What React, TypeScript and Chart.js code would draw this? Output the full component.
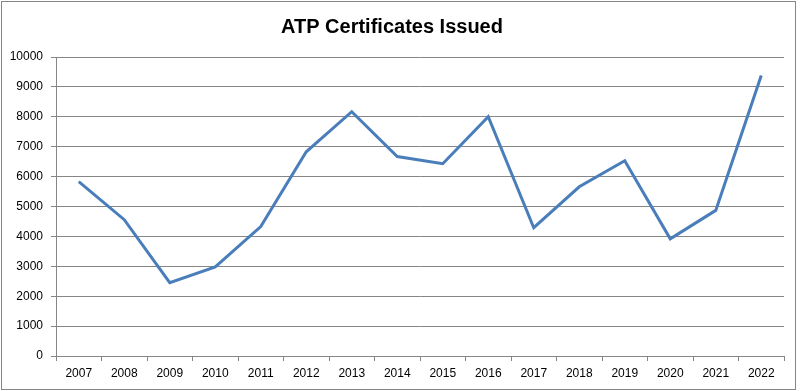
import React, { useEffect, useRef } from "react";
import { Chart, registerables } from "chart.js";

Chart.register(...registerables);

const years = ["2007","2008","2009","2010","2011","2012","2013","2014","2015","2016","2017","2018","2019","2020","2021","2022"];
const certificates = [5830, 4560, 2450, 2980, 4330, 6830, 8170, 6670, 6430, 8000, 4290, 5660, 6530, 3920, 4870, 9380];
const yTicks = [0, 1000, 2000, 3000, 4000, 5000, 6000, 7000, 8000, 9000, 10000];
const chartTitle = "ATP Certificates Issued";

const borderPlugin = {
  id: "outerBorder",
  afterDraw(chart: any) {
    const ctx = chart.ctx;
    ctx.save();
    ctx.strokeStyle = "#868686";
    ctx.lineWidth = 1;
    ctx.strokeRect(1.5, 1.5, 794, 388);
    ctx.restore();
  },
};

export default function App() {
  const ref = useRef<HTMLCanvasElement | null>(null);
  useEffect(() => {
    if (!ref.current) return;
    const chart = new Chart(ref.current, {
      type: "line",
      data: {
        labels: years,
        datasets: [
          {
            data: certificates,
            borderColor: "#4A7EBB",
            borderWidth: 3,
            pointRadius: 0,
            tension: 0,
          },
        ],
      },
      plugins: [borderPlugin],
      options: {
        animation: false,
        responsive: false,
        layout: { padding: { left: 0, right: 17, top: 0, bottom: 0 } },
        plugins: {
          legend: { display: false },
          tooltip: { enabled: false },
          title: {
            display: true,
            text: chartTitle,
            color: "#000",
            font: { family: "Liberation Sans", size: 20, weight: "bold", lineHeight: 1.2 },
            padding: { top: 15, bottom: 18 },
          },
        },
        scales: {
          x: {
            offset: true,
            grid: {
              offset: true,
              drawOnChartArea: false,
              color: "#868686",
              tickLength: 5,
            },
            border: { color: "#868686" },
            ticks: {
              color: "#000",
              font: { family: "Liberation Sans", size: 12 },
              padding: 5,
              maxRotation: 0,
            },
            afterFit(scale: any) {
              scale.height = 35;
            },
          },
          y: {
            min: 0,
            max: 10000,
            afterBuildTicks(scale: any) {
              scale.ticks = yTicks.map((v) => ({ value: v }));
            },
            grid: { color: "#868686", tickLength: 5 },
            border: { color: "#868686" },
            ticks: {
              color: "#000",
              font: { family: "Liberation Sans", size: 12 },
              padding: 8,
              callback: (v: any) => String(v),
            },
            afterFit(scale: any) {
              scale.width = 56;
            },
          },
        },
      },
    });
    return () => chart.destroy();
  }, []);
  return (
    <div style={{ position: "absolute", left: 0, top: 0, width: 801, height: 391, background: "#fff" }}>
      <canvas ref={ref} width={801} height={391} style={{ width: 801, height: 391 }} />
    </div>
  );
}
